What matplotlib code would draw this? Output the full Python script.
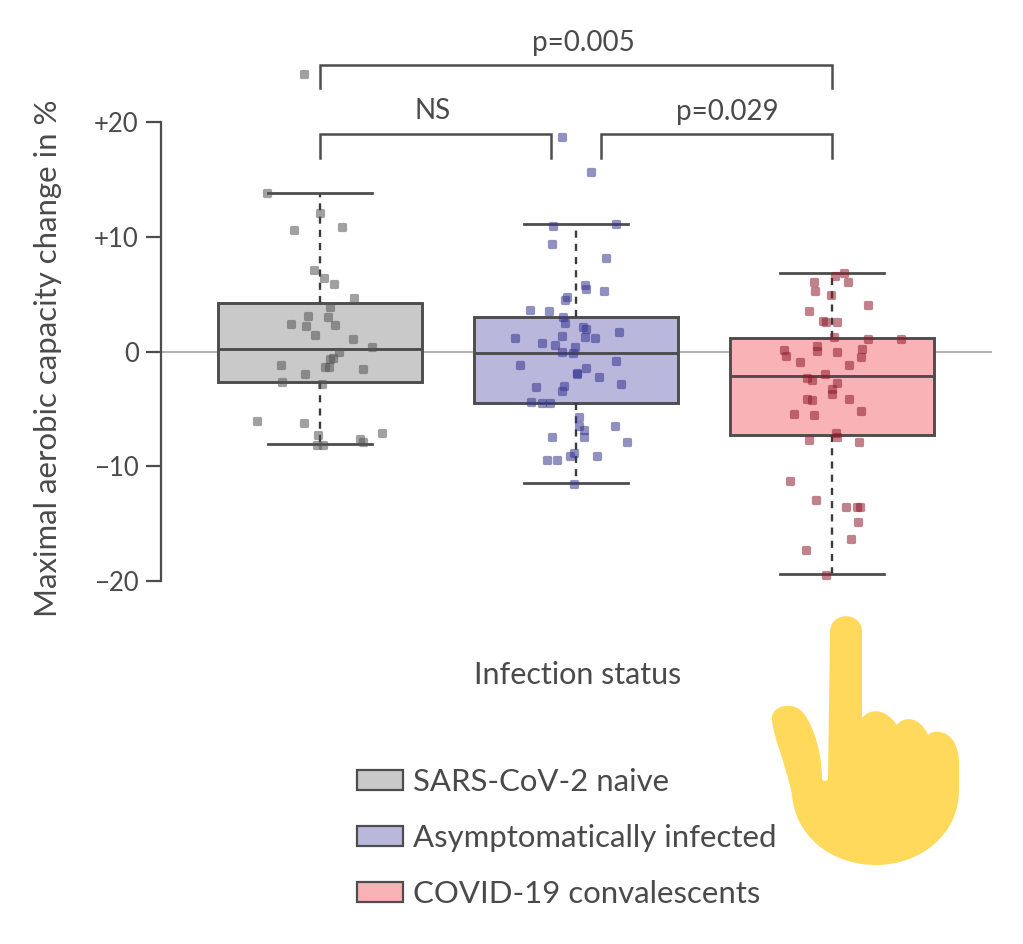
import matplotlib
matplotlib.use("Agg")
import matplotlib.pyplot as plt
from matplotlib.patches import Patch, PathPatch
from matplotlib.path import Path
from matplotlib.transforms import Affine2D

plt.rcParams['font.family'] = ['Lato', 'DejaVu Sans']

labels = ['SARS-CoV-2 naive', 'Asymptomatically infected', 'COVID-19 convalescents']
positions = [1, 2, 3]

# box stats: whislo, q1, med, q3, whishi
whislo = [-8.1, -11.5, -19.42]
q1 = [-2.7, -4.53, -7.24]
med = [0.2, -0.12, -2.12]
q3 = [4.19, 3.02, 1.19]
whishi = [13.8, 11.1, 6.86]

# jittered points: horizontal offset from the category, then value
naive_dx = [-0.063, -0.207, 0.001, -0.103, 0.086, -0.023, 0.016, 0.056, 0.132, 0.04, -0.048, 0.03,
            -0.115, -0.056, 0.059, -0.018, 0.129, 0.203, 0.073, 0.049, 0.04, -0.154, 0.02, 0.036,
            0.168, -0.057, -0.15, 0.007, -0.245, -0.061, 0.242, -0.007, 0.155, 0.167, -0.013, 0.01]
naive_y = [24.2, 13.8, 12.06, 10.6, 10.87, 7.12, 6.4, 5.87, 4.62, 3.84, 3.11, 3.05,
           2.44, 2.18, 2.3, 1.4, 1.13, 0.41, -0.06, -0.58, -0.64, -1.19, -1.31, -1.31,
           -1.51, -1.98, -2.62, -2.82, -6.02, -6.19, -7.12, -7.3, -7.65, -7.85, -8.11, -8.11]

asym_dx = [-0.055, 0.059, -0.091, 0.158, -0.092, 0.116, 0.034, 0.039, 0.108, -0.034, -0.044, -0.178,
           -0.107, -0.049, -0.042, 0.027, 0.039, 0.168, -0.237, -0.053, 0.035, 0.074, -0.132, -0.081,
           -0.004, -0.053, -0.012, 0.156, -0.22, 0.038, 0.003, 0.005, 0.091, 0.177, -0.158, -0.047,
           -0.056, -0.174, -0.132, -0.103, 0.013, 0.013, 0.151, 0.033, -0.092, 0.033, 0.198, -0.008,
           -0.022, 0.082, -0.113, -0.073, -0.008]
asym_y = [18.72, 15.64, 10.9, 11.1, 9.33, 8.11, 5.81, 5.49, 5.23, 4.77, 4.53, 3.6,
          3.52, 3.02, 2.47, 2.12, 2.0, 1.72, 1.22, 1.37, 1.28, 1.22, 0.76, 0.61,
          0.38, -0.03, -0.15, -0.81, -1.19, -1.4, -1.86, -1.95, -2.24, -2.82, -3.08, -2.99,
          -3.46, -4.36, -4.53, -4.48, -5.73, -6.45, -6.48, -6.8, -7.44, -7.44, -7.88, -8.81,
          -9.07, -9.07, -9.45, -9.48, -11.51]

conv_dx = [0.047, 0.013, -0.07, 0.063, -0.065, -0.005, 0.141, -0.089, -0.036, -0.025, 0.02, 0.008,
           0.141, 0.268, -0.06, 0.117, -0.186, -0.059, 0.021, -0.18, 0.113, -0.124, 0.068, -0.027,
           -0.098, -0.078, 0.021, 0.0, 0.0, -0.098, -0.077, 0.068, 0.115, -0.148, -0.07, 0.014,
           0.021, -0.089, 0.105, -0.164, -0.061, 0.053, 0.098, 0.111, 0.102, 0.073, -0.103, -0.025]
conv_y = [6.86, 6.54, 6.08, 6.08, 5.23, 4.94, 4.01, 3.52, 2.65, 2.59, 2.59, 1.25,
          1.1, 1.1, 0.47, 0.26, 0.17, 0.06, -0.03, -0.41, -0.49, -0.93, -1.22, -1.98,
          -2.33, -2.47, -2.76, -3.23, -3.72, -4.13, -4.22, -4.1, -5.15, -5.49, -5.55, -7.12,
          -7.41, -7.73, -7.91, -11.25, -12.97, -13.55, -13.55, -13.52, -14.83, -16.34, -17.3, -19.45]

dx_all = [naive_dx, asym_dx, conv_dx]
y_all = [naive_y, asym_y, conv_y]

fill_colors = ['#c9c9c9', '#bab7dc', '#f9b3b6']
point_colors = ['#555555', '#35358f', '#8e1c2c']
text_color = '#4a4a4a'
edge_color = '#4d4d4d'

# rounded square marker, the dots in the source are neither square nor round
c = 0.6
rounded = Path([(-c, -1), (c, -1), (1, -1), (1, -c), (1, c), (1, 1), (c, 1), (-c, 1), (-1, 1), (-1, c),
                (-1, -c), (-1, -1), (-c, -1), (-c, -1)],
               [Path.MOVETO, Path.LINETO, Path.CURVE3, Path.CURVE3, Path.LINETO, Path.CURVE3, Path.CURVE3,
                Path.LINETO, Path.CURVE3, Path.CURVE3, Path.LINETO, Path.CURVE3, Path.CURVE3, Path.CLOSEPOLY])

W, H = 1023, 944
fig = plt.figure(figsize=(W / 100, H / 100), dpi=100)
ax = fig.add_axes([161 / W, 1 - 581 / H, (992 - 161) / W, (581 - 122) / H])
ax.set_xlim(0.379, 3.625)
ax.set_ylim(-20, 20)

ax.axhline(0, color='#b5b5b5', lw=1.5, zorder=1)

stats = []
for i in range(3):
    stats.append({'whislo': whislo[i], 'q1': q1[i], 'med': med[i], 'q3': q3[i], 'whishi': whishi[i], 'fliers': []})
bp = ax.bxp(stats, positions=positions, widths=0.8, capwidths=0.405, patch_artist=True, showfliers=False,
            manage_ticks=False, zorder=2,
            boxprops=dict(edgecolor=edge_color, linewidth=2.1),
            medianprops=dict(color=edge_color, linewidth=2.1),
            whiskerprops=dict(color='#3a3a3a', linewidth=1.7, linestyle=(0, (3, 2.6))),
            capprops=dict(color=edge_color, linewidth=2.0))
for box, col in zip(bp['boxes'], fill_colors):
    box.set_facecolor(col)

for i in range(3):
    xs = [positions[i] + d for d in dx_all[i]]
    ax.scatter(xs, y_all[i], s=44, marker=rounded, color=point_colors[i], alpha=0.55,
               linewidths=0, zorder=3, clip_on=False)

# significance brackets
brackets = [(1, 3, 25.0, 23.0), (1, 1.902, 18.95, 16.9), (2.098, 3, 18.95, 16.9)]
for x0, x1, top, low in brackets:
    ax.plot([x0, x0, x1, x1], [low, top, top, low], color=edge_color, lw=1.8, clip_on=False,
            solid_joinstyle='miter', zorder=2)
ax.text(2.03, 26.9, 'p=0.005', ha='center', va='center', fontsize=20, color=text_color)
ax.text(1.438, 21.0, 'NS', ha='center', va='center', fontsize=20, color=text_color)
ax.text(2.593, 20.9, 'p=0.029', ha='center', va='center', fontsize=20, color=text_color)

# axes styling
for s in ['top', 'right', 'bottom']:
    ax.spines[s].set_visible(False)
ax.spines['left'].set_color(edge_color)
ax.spines['left'].set_linewidth(1.6)
ax.set_xticks([])
ax.set_yticks([-20, -10, 0, 10, 20])
ax.set_yticklabels(['\u221220', '\u221210', '0', '+10', '+20'], fontsize=18.5, color=text_color)
ax.tick_params(axis='y', length=10.5, width=1.6, color=edge_color, pad=5.5)
fig.text(48 / W, 1 - 358 / H, 'Maximal aerobic capacity change in %', rotation=90, ha='center', va='center',
         fontsize=22.4, color=text_color)
fig.text(578 / W, 1 - 675 / H, 'Infection status', ha='center', va='center', fontsize=22, color=text_color)

handles = [Patch(facecolor=col, edgecolor=edge_color, linewidth=1.6) for col in fill_colors]
fig.legend(handles, labels, loc='upper left', bbox_to_anchor=(357 / W, 1 - 768 / H), borderaxespad=0, borderpad=0,
           frameon=False, fontsize=22.4, labelcolor=text_color, handlelength=1.48, handleheight=0.61,
           handletextpad=0.32, labelspacing=0.9)

# pointing hand overlay, drawn in picture pixels
hand_verts = [(830, 632), (830, 611), (862, 611), (862, 632), (862, 718),
              (870, 708), (885, 708), (897, 725),
              (903, 716), (920, 716), (928, 735),
              (935, 728), (958, 730), (959, 762), (959, 790),
              (959, 835), (920, 865), (876, 865),
              (830, 865), (795, 835), (792, 795),
              (785, 760), (772, 735), (772, 718),
              (772, 705), (795, 700), (805, 715),
              (815, 730), (822, 755), (822, 778),
              (822, 782), (828, 782), (828, 778),
              (830, 632)]
hand_codes = [Path.MOVETO, Path.CURVE4, Path.CURVE4, Path.CURVE4, Path.LINETO,
              Path.CURVE4, Path.CURVE4, Path.CURVE4,
              Path.CURVE4, Path.CURVE4, Path.CURVE4,
              Path.CURVE4, Path.CURVE4, Path.CURVE4, Path.LINETO,
              Path.CURVE4, Path.CURVE4, Path.CURVE4,
              Path.CURVE4, Path.CURVE4, Path.CURVE4,
              Path.CURVE4, Path.CURVE4, Path.CURVE4,
              Path.CURVE4, Path.CURVE4, Path.CURVE4,
              Path.CURVE4, Path.CURVE4, Path.CURVE4,
              Path.CURVE4, Path.CURVE4, Path.CURVE4,
              Path.LINETO]
pixel_tf = Affine2D().scale(1 / W, -1 / H).translate(0, 1) + fig.transFigure
fig.add_artist(PathPatch(Path(hand_verts, hand_codes), facecolor='#ffd95c', edgecolor='none', transform=pixel_tf))

fig.savefig('out.png', dpi=100)
